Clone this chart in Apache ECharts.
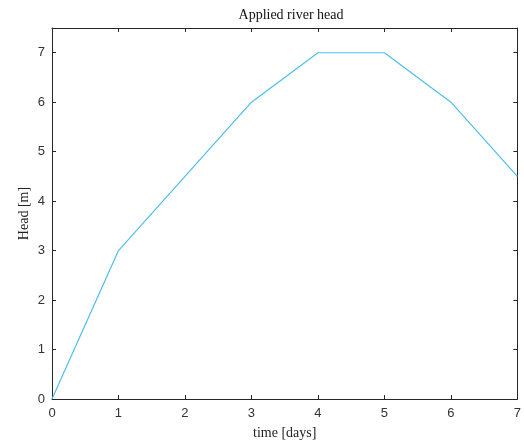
<!DOCTYPE html>
<html>
<head>
<meta charset="utf-8">
<script src="https://cdn.jsdelivr.net/npm/echarts@6/dist/echarts.min.js"></script>
<style>
  html, body { margin: 0; padding: 0; background: #fff; }
  #chart { width: 524px; height: 446px; }
</style>
</head>
<body>
<div id="chart"></div>
<script>
// time [days] and applied head [m]
const timeDays = [0, 1, 3, 4, 5, 6, 7]
const headM = [0, 3, 6, 7, 7, 6, 4.5]
const xTicks = [0, 1, 2, 3, 4, 5, 6, 7]
const yTicks = [0, 1, 2, 3, 4, 5, 6, 7]

const axisColor = '#262626'
const serif = '"Liberation Serif", "DejaVu Serif", serif'
const sans = '"Liberation Sans", Arial, sans-serif'

const points = timeDays.map((t, i) => [t, headM[i]])

const myChart = echarts.init(document.getElementById('chart'))

const xBase = {
  type: 'value', min: 0, max: 7, interval: 1,
  splitLine: { show: false },
  axisLine: { show: true, onZero: false, lineStyle: { color: axisColor, width: 1 } },
  axisTick: { show: true, inside: true, length: 4, customValues: xTicks, lineStyle: { color: axisColor } }
}
const yBase = {
  type: 'value', min: 0, max: 7.5, interval: 1,
  splitLine: { show: false },
  axisLine: { show: true, onZero: false, lineStyle: { color: axisColor, width: 1 } },
  axisTick: { show: true, inside: true, length: 4, customValues: yTicks, lineStyle: { color: axisColor } }
}

myChart.setOption({
  animation: false,
  title: {
    text: 'Applied river head',
    left: 286, top: 3, textAlign: 'center',
    textStyle: { fontFamily: serif, fontWeight: 'normal', fontSize: 14, color: '#111' }
  },
  grid: { left: 52, right: 4, top: 28, bottom: 47 },
  xAxis: [
    Object.assign({}, xBase, {
      position: 'bottom',
      name: 'time [days]', nameLocation: 'middle', nameGap: 27, nameMoveOverlap: false,
      nameTextStyle: { fontFamily: serif, fontSize: 14, color: '#222' },
      axisLabel: { fontFamily: sans, fontSize: 13, color: '#333', margin: 8, customValues: xTicks }
    }),
    Object.assign({}, xBase, { position: 'top', axisLabel: { show: false } })
  ],
  yAxis: [
    Object.assign({}, yBase, {
      position: 'left',
      name: 'Head [m]', nameLocation: 'middle', nameGap: 21, nameMoveOverlap: false,
      nameTextStyle: { fontFamily: serif, fontSize: 14, color: '#222' },
      axisLabel: { fontFamily: sans, fontSize: 13, color: '#333', margin: 7, customValues: yTicks }
    }),
    Object.assign({}, yBase, { position: 'right', axisLabel: { show: false } })
  ],
  series: [{
    type: 'line',
    data: points,
    symbol: 'none',
    lineStyle: { color: '#4DBEEE', width: 1.2 },
    xAxisIndex: 0, yAxisIndex: 0
  }]
})

window.addEventListener('resize', () => {
  myChart.resize()
})
</script>
</body>
</html>
